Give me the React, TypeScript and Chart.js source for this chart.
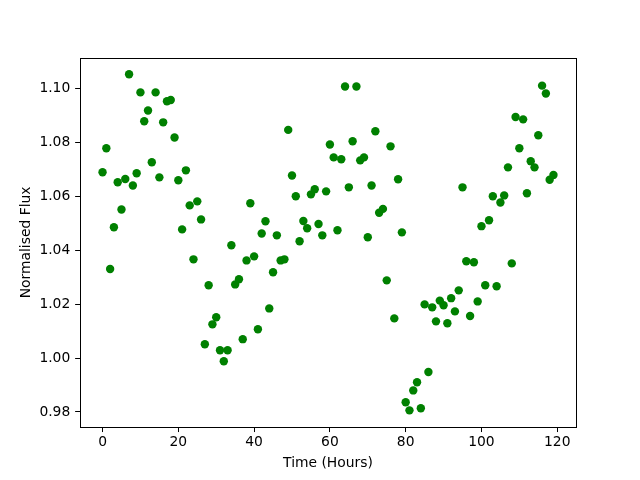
import React, { useEffect, useRef } from "react";
import { Chart, registerables } from "chart.js";

Chart.register(...registerables);

const hours = [
  0, 1, 2, 3, 4, 5, 6, 7, 8, 9, 10, 11, 12, 13, 14, 15, 16, 17, 18, 19,
  20, 21, 22, 23, 24, 25, 26, 27, 28, 29, 30, 31, 32, 33, 34, 35, 36, 37, 38, 39,
  40, 41, 42, 43, 44, 45, 46, 47, 48, 49, 50, 51, 52, 53, 54, 55, 56, 57, 58, 59,
  60, 61, 62, 63, 64, 65, 66, 67, 68, 69, 70, 71, 72, 73, 74, 75, 76, 77, 78, 79,
  80, 81, 82, 83, 84, 85, 86, 87, 88, 89, 90, 91, 92, 93, 94, 95, 96, 97, 98, 99,
  100, 101, 102, 103, 104, 105, 106, 107, 108, 109, 110, 111, 112, 113, 114, 115, 116, 117, 118, 119,
];

const flux = [
  1.0689, 1.0778, 1.0330, 1.0485, 1.0652, 1.0551, 1.0664, 1.1052, 1.0640, 1.0685,
  1.0985, 1.0878, 1.0918, 1.0726, 1.0985, 1.0670, 1.0874, 1.0952, 1.0957, 1.0818,
  1.0659, 1.0477, 1.0696, 1.0566, 1.0366, 1.0581, 1.0514, 1.0051, 1.0270, 1.0125,
  1.0151, 1.0029, 0.9988, 1.0029, 1.0418, 1.0273, 1.0292, 1.0070, 1.0362, 1.0574,
  1.0377, 1.0107, 1.0462, 1.0507, 1.0184, 1.0318, 1.0455, 1.0362, 1.0366, 1.0846,
  1.0677, 1.0600, 1.0433, 1.0508, 1.0481, 1.0607, 1.0626, 1.0497, 1.0455, 1.0618,
  1.0792, 1.0744, 1.0474, 1.0737, 1.1007, 1.0633, 1.0804, 1.1007, 1.0733, 1.0744,
  1.0448, 1.0640, 1.0841, 1.0539, 1.0553, 1.0288, 1.0785, 1.0147, 1.0663, 1.0466,
  0.9836, 0.9806, 0.9880, 0.9910, 0.9814, 1.0199, 0.9948, 1.0188, 1.0136, 1.0213,
  1.0196, 1.0129, 1.0222, 1.0173, 1.0251, 1.0633, 1.0359, 1.0156, 1.0355, 1.0210,
  1.0489, 1.0270, 1.0511, 1.0600, 1.0266, 1.0577, 1.0603, 1.0707, 1.0351, 1.0894,
  1.0778, 1.0885, 1.0611, 1.0730, 1.0707, 1.0826, 1.1010, 1.0981, 1.0661, 1.0679,
];

const xTicks = [0, 20, 40, 60, 80, 100, 120];
const yTicks = [0.98, 1.0, 1.02, 1.04, 1.06, 1.08, 1.1];

const FONT = { family: "'DejaVu Sans', sans-serif", size: 13.89 };

const framePlugin = {
  id: "frame",
  afterDraw(chart: any) {
    const { ctx, chartArea } = chart;
    const l = Math.round(chartArea.left);
    const t = Math.round(chartArea.top);
    const r = Math.round(chartArea.right);
    const b = Math.round(chartArea.bottom);
    ctx.save();
    ctx.strokeStyle = "#000";
    ctx.lineWidth = 1;
    ctx.strokeRect(l + 0.5, t + 0.5, r - l, b - t);
    ctx.restore();
  },
};

export default function App() {
  const ref = useRef<HTMLCanvasElement | null>(null);

  useEffect(() => {
    if (!ref.current) return;
    const chart = new Chart(ref.current, {
      type: "scatter",
      data: {
        datasets: [
          {
            data: hours.map((h, i) => ({ x: h, y: flux[i] })),
            backgroundColor: "#008000",
            borderColor: "#008000",
            pointRadius: 4.2,
            pointBorderWidth: 0,
            pointHoverRadius: 4.2,
          },
        ],
      },
      options: {
        responsive: false,
        animation: false,
        devicePixelRatio: 1,
        layout: { padding: { left: 0, right: 64, top: 57.6, bottom: 0 } },
        plugins: { legend: { display: false }, tooltip: { enabled: false } },
        scales: {
          x: {
            type: "linear",
            min: -5.95,
            max: 124.95,
            afterBuildTicks: (s: any) => {
              s.ticks = xTicks.map((v) => ({ value: v }));
            },
            afterFit: (s: any) => {
              s.height = 52.8;
            },
            border: { display: false },
            grid: {
              display: true,
              drawOnChartArea: false,
              drawTicks: true,
              tickLength: 4.86,
              color: "#000",
              lineWidth: 1,
            },
            ticks: {
              color: "#000",
              font: FONT,
              padding: 2,
              maxRotation: 0,
              callback: (v: any) => String(v),
            },
            title: {
              display: true,
              text: "Time (Hours)",
              color: "#000",
              font: FONT,
              padding: { top: 0, bottom: 8.5 },
            },
          },
          y: {
            type: "linear",
            min: 0.97436,
            max: 1.1114,
            afterBuildTicks: (s: any) => {
              s.ticks = yTicks.map((v) => ({ value: v }));
            },
            afterFit: (s: any) => {
              s.width = 80;
            },
            border: { display: false },
            grid: {
              display: true,
              drawOnChartArea: false,
              drawTicks: true,
              tickLength: 4.86,
              color: "#000",
              lineWidth: 1,
            },
            ticks: {
              color: "#000",
              font: FONT,
              padding: 4.86,
              callback: (v: any) => Number(v).toFixed(2),
            },
            title: {
              display: true,
              text: "Normalised Flux",
              color: "#000",
              font: FONT,
              padding: { top: 18.5, bottom: 0 },
            },
          },
        },
      },
      plugins: [framePlugin],
    });
    return () => chart.destroy();
  }, []);

  return (
    <div style={{ position: "fixed", left: 0, top: 0, width: 640, height: 480, background: "#fff" }}>
      <canvas ref={ref} width={640} height={480} />
    </div>
  );
}
